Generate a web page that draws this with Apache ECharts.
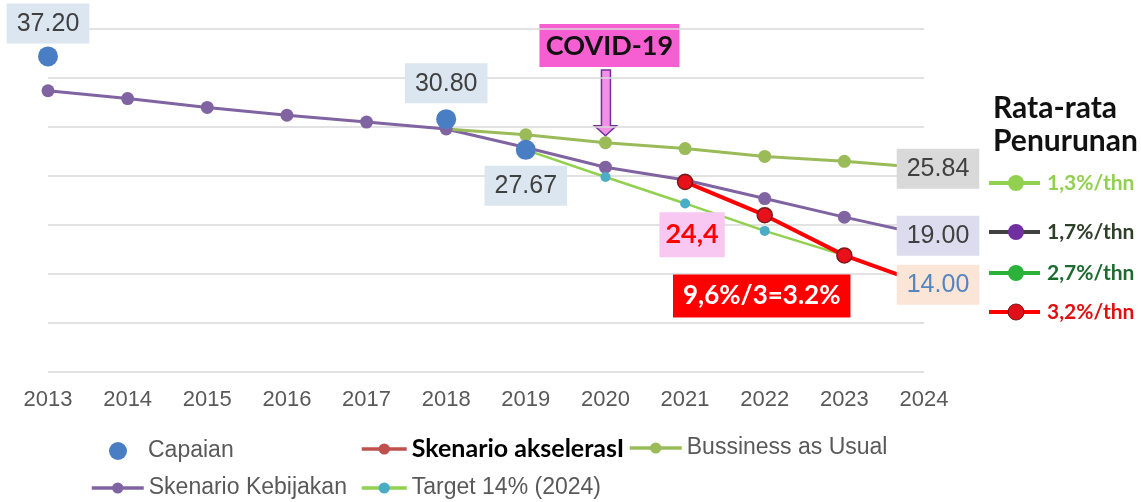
<!DOCTYPE html>
<html>
<head>
<meta charset="utf-8">
<script src="https://cdn.jsdelivr.net/npm/echarts@6/dist/echarts.min.js"></script>
<style>
  html, body { margin: 0; padding: 0; background: #fff; }
  #chart { width: 1141px; height: 502px; }
</style>
</head>
<body>
<div id="chart"></div>
<script>
// ---- data ----
const years      = ['2013','2014','2015','2016','2017','2018','2019','2020','2021','2022','2023','2024'];
const capaian    = [['2013', 37.20], ['2018', 30.80], ['2019', 27.67]];
const kebijakan  = [33.7, 32.9, 32.0, 31.2, 30.5, 29.8, 27.9, 25.9, 24.6, 22.7, 20.8, 19.00];
const bau        = [null, null, null, null, null, 29.8, 29.2, 28.4, 27.8, 27.0, 26.5, 25.84];
const target     = [null, null, null, null, null, null, 27.67, 24.9, 22.2, 19.4, 16.9, 14.00];
const akselerasi = [null, null, null, null, null, null, null, null, 24.4, 21.0, 16.9, 14.00];
const yMin = 5, yMax = 40, yStep = 5;
const keyTitle = ['Rata-rata', 'Penurunan'];
const keyRates = ['1,3%/thn', '1,7%/thn', '2,7%/thn', '3,2%/thn'];
const covidYear = '2020';

const chart = echarts.init(document.getElementById('chart'));
const last = years.length - 1;

const numLabel = (bg, color) => ({
  show: true,
  fontFamily: 'Liberation Sans',
  fontSize: 25,
  lineHeight: 25,
  color: color || '#404040',
  backgroundColor: bg,
  padding: [8, 10, 7, 10],
  formatter: p => (Array.isArray(p.value) ? p.value[1] : p.value).toFixed(2)
});

// end-of-line labels sit on the 2024 points (the point itself shrinks under the box)
function withEndLabel(arr, bg, color) {
  return arr.map((v, i) => i === last
    ? { value: v, symbolSize: 1, label: Object.assign(numLabel(bg, color), { position: 'inside', offset: [14, 1] }) }
    : v);
}

const kebData = withEndLabel(kebijakan, '#dcdcee');
const bauData = withEndLabel(bau, '#d9d9d9').map((v, i) => i === 5 ? { value: v, symbol: 'none' } : v);
const tgtData = target.map((v, i) => i === last ? { value: v, symbol: 'none' } : v);
const aksData = withEndLabel(akselerasi, '#fbe5d6', '#5585c0').map((v, i) => {
  if (i === 8) return { value: v, label: {
    show: true, position: 'bottom', distance: 22, offset: [7, 0],
    formatter: '24,4', fontFamily: 'Lato', fontWeight: 'bold', fontSize: 27, lineHeight: 27,
    color: '#ff0000', backgroundColor: '#f8c8f2', padding: [9, 6, 9, 6] } };
  if (i === 9) return { value: v, label: {
    show: true, position: 'bottom', distance: 51, offset: [-3, 0],
    formatter: '9,6%/3=3.2%', fontFamily: 'Lato', fontWeight: 'bold', fontSize: 26, lineHeight: 27,
    color: '#ffffff', backgroundColor: '#ff0000', padding: [8, 10, 8, 10] } };
  return v;
});

const capData = capaian.map((d, i) => ({
  value: d,
  label: Object.assign(numLabel('#dce6f1'), {
    position: i === 2 ? 'bottom' : 'top',
    distance: i === 0 ? 3 : 6
  })
}));

const legendText = { fontFamily: 'Liberation Sans', fontSize: 23, lineHeight: 24, color: '#595959' };
function legendAt(name, left, top, w, h, extra) {
  return Object.assign({
    data: [name], left: left, top: top, itemWidth: w, itemHeight: h,
    padding: 0, textStyle: legendText, lineStyle: { width: 3.5 }
  }, extra || {});
}

// right-hand key (annotation)
const keyColors = [
  { line: '#92d050', dot: '#92d050', text: '#92d050' },
  { line: '#404040', dot: '#7030a0', text: '#2e3f2a' },
  { line: '#2cb23a', dot: '#2cb23a', text: '#1e6b30' },
  { line: '#ff0000', dot: '#e0101a', text: '#e01010' }
];
const keyRows = [183, 232, 273, 312];
const keyGraphic = [];
keyTitle.forEach((t, i) => keyGraphic.push({
  type: 'text', left: 993, top: 93 + i * 33,
  style: { text: t, fontFamily: 'Lato', fontWeight: 'bold', fontSize: 30, fill: '#111' }
}));
keyRates.forEach((t, i) => {
  const y = keyRows[i], c = keyColors[i];
  keyGraphic.push({ type: 'line', shape: { x1: 989, y1: y, x2: 1040, y2: y }, style: { stroke: c.line, lineWidth: 4 } });
  keyGraphic.push({ type: 'circle', shape: { cx: 1016, cy: y, r: 8 }, style: { fill: c.dot, stroke: i === 3 ? '#7a1a1a' : null, lineWidth: 1 } });
  keyGraphic.push({ type: 'text', x: 1047, y: y, style: { text: t, fontFamily: 'Lato', fontWeight: 'bold', fontSize: 21, fill: c.text, verticalAlign: 'middle' } });
});

chart.setOption({
  animation: false,
  grid: { left: 48, right: 217, top: 29, bottom: 130 },
  xAxis: {
    type: 'category', data: years, boundaryGap: false,
    axisLine: { show: false }, axisTick: { show: false },
    axisLabel: { fontFamily: 'Liberation Sans', fontSize: 22, color: '#595959', margin: 17 }
  },
  yAxis: {
    type: 'value', min: yMin, max: yMax, interval: yStep,
    axisLabel: { show: false }, axisLine: { show: false }, axisTick: { show: false },
    splitLine: { lineStyle: { color: '#d9d9d9', width: 1.5 } }
  },
  legend: [
    legendAt('Capaian', 109, 439, 18, 18, {
      icon: 'circle',
      textStyle: Object.assign({}, legendText, { padding: [0, 0, 0, 16] })
    }),
    legendAt('Skenario akselerasI', 360, 436, 45, 14, {
      textStyle: { fontFamily: 'Lato', fontWeight: 'bold', fontSize: 25, lineHeight: 26, color: '#000' },
      lineStyle: { color: '#c0504d', width: 3.5 }, itemStyle: { color: '#c0504d', borderWidth: 0 }
    }),
    legendAt('Bussiness as Usual', 628, 436, 52, 14),
    legendAt('Skenario Kebijakan', 90, 476, 52, 14),
    legendAt('Target 14% (2024)', 360, 476, 45, 14)
  ],
  series: [
    { name: 'Skenario Kebijakan', type: 'line', data: kebData, z: 2,
      symbol: 'circle', symbolSize: 13,
      lineStyle: { color: '#8064a2', width: 3 }, itemStyle: { color: '#8064a2' } },
    { name: 'Bussiness as Usual', type: 'line', data: bauData, z: 2,
      symbol: 'circle', symbolSize: 13,
      lineStyle: { color: '#9bbb59', width: 3 }, itemStyle: { color: '#9bbb59' } },
    { name: 'Target 14% (2024)', type: 'line', data: tgtData, z: 3,
      symbol: 'circle', symbolSize: 10,
      lineStyle: { color: '#92d050', width: 2.5 }, itemStyle: { color: '#4bacc6' } },
    { name: 'Skenario akselerasI', type: 'line', data: aksData, z: 4,
      symbol: 'circle', symbolSize: 15,
      lineStyle: { color: '#ff0000', width: 4 },
      itemStyle: { color: '#e8101a', borderColor: '#7a1a1a', borderWidth: 1.5 } },
    { name: 'Capaian', type: 'scatter', data: capData, z: 5,
      symbolSize: 20, itemStyle: { color: '#4a7ec4', opacity: 1 } }
  ],
  graphic: keyGraphic
});

// COVID-19 callout anchored to the BAU point of 2020
const tip = chart.convertToPixel({ xAxisIndex: 0, yAxisIndex: 0 }, [covidYear, bau[years.indexOf(covidYear)]]);
const ax = tip[0], ty = tip[1] - 7;
chart.setOption({
  graphic: keyGraphic.concat([
    { type: 'rect', shape: { x: ax - 66, y: 24, width: 140, height: 43 },
      style: { fill: '#f55fd2' } },
    { type: 'text', x: ax + 4, y: 46,
      style: { text: 'COVID-19', fontFamily: 'Lato', fontWeight: 'bold', fontSize: 27,
               fill: '#111', align: 'center', verticalAlign: 'middle' } },
    { type: 'polygon', shape: { points: [
        [ax - 4, 70], [ax + 5, 70], [ax + 5, ty - 10], [ax + 11, ty - 10],
        [ax, ty], [ax - 11, ty - 10], [ax - 4, ty - 10]] },
      style: { fill: '#f290e2', stroke: '#7030a0', lineWidth: 1.5 } }
  ])
});
</script>
</body>
</html>
